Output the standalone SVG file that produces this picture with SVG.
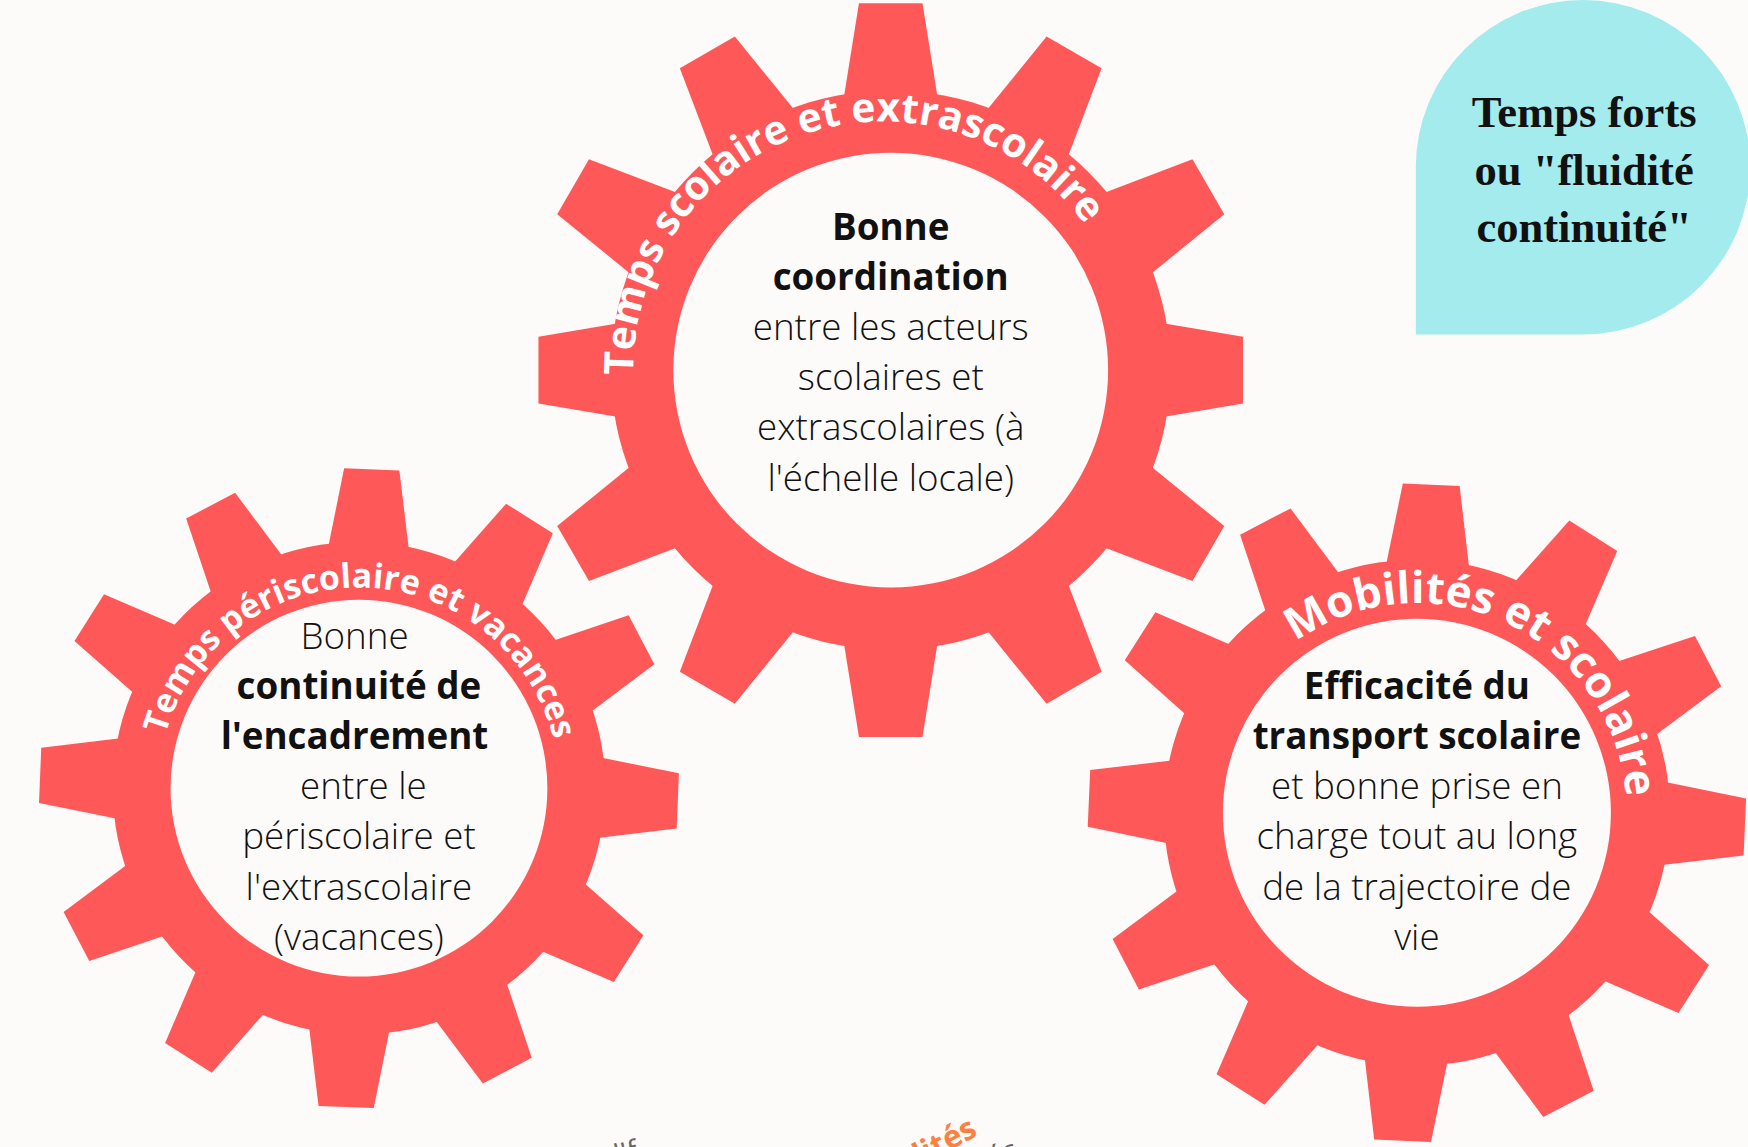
<svg xmlns="http://www.w3.org/2000/svg" xmlns:xlink="http://www.w3.org/1999/xlink" width="1748" height="1147" viewBox="0 0 1748 1147">
<style>
.gear{fill:#ff5858}
.hole{fill:#fdfbfa}
.arc{font-family:"Open Sans","DejaVu Sans",sans-serif;font-weight:700;fill:#ffffff}
.body{font-family:"Open Sans","DejaVu Sans",sans-serif;font-size:33px;fill:#111111;text-anchor:middle}
.b{font-weight:700}
.l{font-weight:300}
.tag{font-family:"Liberation Serif","DejaVu Serif",serif;font-weight:700;font-size:40px;fill:#111111;text-anchor:middle}
</style>
<defs>
<polygon id="tooth" points="-43.6,-235 -28.5,-329 28.5,-329 43.6,-235"/>
<polygon id="toothS" points="-43.7,-235 -30,-316 30,-316 43.7,-235"/>
<g id="teeth12">
<use xlink:href="#tooth"/>
<use xlink:href="#tooth" transform="rotate(30)"/>
<use xlink:href="#tooth" transform="rotate(60)"/>
<use xlink:href="#tooth" transform="rotate(90)"/>
<use xlink:href="#tooth" transform="rotate(120)"/>
<use xlink:href="#tooth" transform="rotate(150)"/>
<use xlink:href="#tooth" transform="rotate(180)"/>
<use xlink:href="#tooth" transform="rotate(210)"/>
<use xlink:href="#tooth" transform="rotate(240)"/>
<use xlink:href="#tooth" transform="rotate(270)"/>
<use xlink:href="#tooth" transform="rotate(300)"/>
<use xlink:href="#tooth" transform="rotate(330)"/>
</g>
<path id="arcTop" d="M792,557 A224,224 0 1 1 792,109 A224,224 0 1 1 792,557"/>
<path id="arcLeft" d="M322,887 A180,180 0 1 1 322,527 A180,180 0 1 1 322,887"/>
<path id="arcRight" d="M1271,917 A188,188 0 1 1 1271,541 A188,188 0 1 1 1271,917"/>
</defs>
<rect width="1748" height="1147" fill="#fdfbfa"/>
<g transform="scale(1.1148)">
<g id="tag-temps-forts">
<path d="M1270,300 L1270,150 A150,150 0 0 1 1420,0 A150,150 0 0 1 1570,150 A150,150 0 0 1 1420,300 Z" fill="#a3ebec"/>
<text class="tag" x="1421" y="114">Temps forts</text>
<text class="tag" x="1421" y="166">ou "fluidité</text>
<text class="tag" x="1421" y="217">continuité"</text>
</g>
<g id="gear-scolaire">
<g class="gear" transform="translate(799,332)">
<circle r="251"/>
<use xlink:href="#tooth"/>
<use xlink:href="#tooth" transform="rotate(30)"/>
<use xlink:href="#tooth" transform="rotate(60)"/>
<use xlink:href="#toothS" transform="rotate(90)"/>
<use xlink:href="#tooth" transform="rotate(120)"/>
<use xlink:href="#tooth" transform="rotate(150)"/>
<use xlink:href="#tooth" transform="rotate(180)"/>
<use xlink:href="#tooth" transform="rotate(210)"/>
<use xlink:href="#tooth" transform="rotate(240)"/>
<use xlink:href="#toothS" transform="rotate(270)"/>
<use xlink:href="#tooth" transform="rotate(300)"/>
<use xlink:href="#tooth" transform="rotate(330)"/>
</g>
<circle class="hole" cx="799" cy="332" r="195"/>
<text class="arc" font-size="36.5"><textPath xlink:href="#arcTop" startOffset="44.9%" text-anchor="middle">Temps scolaire et extrascolaire</textPath></text>
<text class="body b" x="799" y="215">Bonne</text>
<text class="body b" x="799" y="260">coordination</text>
<text class="body l" x="799" y="305">entre les acteurs</text>
<text class="body l" x="799" y="350">scolaires et</text>
<text class="body l" x="799" y="395">extrascolaires (à</text>
<text class="body l" x="799" y="440">l'échelle locale)</text>
</g>
<g id="gear-periscolaire">
<g class="gear" transform="translate(322,707) rotate(2.3)">
<circle r="221"/>
<use xlink:href="#teeth12" transform="scale(0.87)"/>
</g>
<circle class="hole" cx="322" cy="707" r="169"/>
<text class="arc" font-size="30.5"><textPath xlink:href="#arcLeft" startOffset="50.2%" text-anchor="middle">Temps périscolaire et vacances</textPath></text>
<text class="body l" x="318" y="582">Bonne</text>
<text class="body b" x="322" y="627">continuité de</text>
<text class="body b" x="318" y="672">l'encadrement</text>
<text class="body l" x="326" y="717">entre le</text>
<text class="body l" x="322" y="762">périscolaire et</text>
<text class="body l" x="322" y="807">l'extrascolaire</text>
<text class="body l" x="322" y="852">(vacances)</text>
</g>
<g id="gear-mobilites">
<g class="gear" transform="translate(1271,729) rotate(2.5)">
<circle r="227"/>
<use xlink:href="#teeth12" transform="scale(0.895)"/>
</g>
<circle class="hole" cx="1271" cy="729" r="174"/>
<text class="arc" font-size="39.5"><textPath xlink:href="#arcRight" startOffset="57%" text-anchor="middle">Mobilités et scolaire</textPath></text>
<text class="body b" x="1271" y="627">Efficacité du</text>
<text class="body b" x="1271" y="672">transport scolaire</text>
<text class="body l" x="1271" y="717">et bonne prise en</text>
<text class="body l" x="1271" y="762">charge tout au long</text>
<text class="body l" x="1271" y="807">de la trajectoire de</text>
<text class="body l" x="1271" y="852">vie</text>
</g>
<g id="clipped-fragments">
<text x="878" y="1018" transform="rotate(-28 878 1018)" font-family="Open Sans, sans-serif" font-weight="700" font-size="28" fill="#ff7f3f" text-anchor="end">Mobilités</text>
<text x="915" y="1038" transform="rotate(-22 915 1038)" font-family="Open Sans, sans-serif" font-size="26" fill="#666666" text-anchor="end">activités</text>
<text x="574" y="1040" transform="rotate(-15 574 1040)" font-family="Open Sans, sans-serif" font-size="26" fill="#666666" text-anchor="end">l'f</text>
</g>
</g>
</svg>
